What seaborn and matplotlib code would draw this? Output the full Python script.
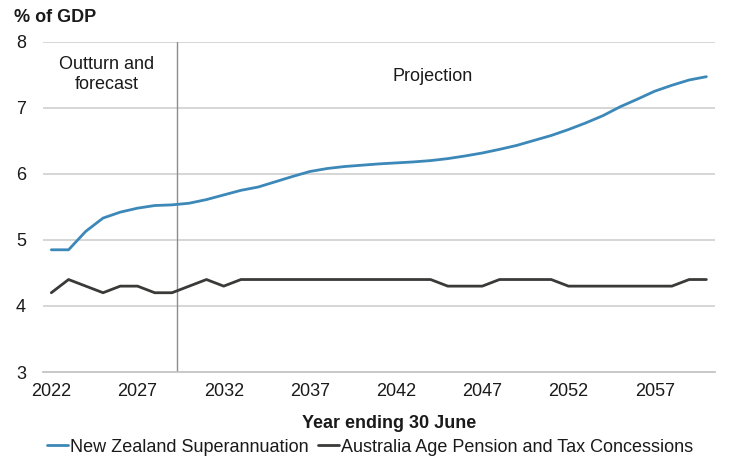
import numpy as np
import pandas as pd
import matplotlib
matplotlib.use("Agg")
import matplotlib.pyplot as plt
import seaborn as sns
from matplotlib.lines import Line2D

years = list(range(2022, 2061))
nz_super = [4.85, 4.85, 5.13, 5.33, 5.42, 5.48, 5.52, 5.53, 5.555, 5.61,
            5.68, 5.75, 5.80, 5.88, 5.96, 6.035, 6.08, 6.11, 6.13, 6.15,
            6.165, 6.18, 6.20, 6.23, 6.27, 6.315, 6.37, 6.43, 6.505, 6.58,
            6.67, 6.77, 6.88, 7.015, 7.13, 7.25, 7.34, 7.42, 7.47]
aus_pension = [4.2, 4.4, 4.3, 4.2, 4.3, 4.3, 4.2, 4.2, 4.3, 4.4,
               4.3, 4.4, 4.4, 4.4, 4.4, 4.4, 4.4, 4.4, 4.4, 4.4,
               4.4, 4.4, 4.4, 4.3, 4.3, 4.3, 4.4, 4.4, 4.4, 4.4,
               4.3, 4.3, 4.3, 4.3, 4.3, 4.3, 4.3, 4.4, 4.4]
series_names = ["New Zealand Superannuation", "Australia Age Pension and Tax Concessions"]
split_year = 2029.3

df = pd.DataFrame({
    "year": years * 2,
    "value": nz_super + aus_pension,
    "series": [series_names[0]] * len(years) + [series_names[1]] * len(years),
})

sns.set_theme(style="white")
plt.rcParams['font.family'] = ['Liberation Sans', 'DejaVu Sans']
plt.rcParams['text.color'] = '#1a1a1a'
fs = 13

fig = plt.figure(figsize=(7.44, 4.63), dpi=100)
ax = fig.add_axes([0.0574, 0.1965, 0.9036, 0.7135])

# gridlines first so lines sit on top
for v in [4, 5, 6, 7, 8]:
    ax.axhline(v, color='#d0d0d0', lw=1.2, zorder=0)
ax.axvline(split_year, color='#8c8c8c', lw=1.0, zorder=1)

sns.lineplot(data=df, x='year', y='value', hue='series', ax=ax,
             palette=['#3c88b8', '#3a3a38'], linewidth=2.0, legend=False, zorder=3)

ax.set_xlim(2021.5, 2060.5)
ax.set_ylim(3, 8)
ax.set_yticks([3, 4, 5, 6, 7, 8])
ax.set_xticks([2022, 2027, 2032, 2037, 2042, 2047, 2052, 2057])
ax.set_xticks([2021.5, 2026.5, 2031.5, 2036.5, 2041.5, 2046.5, 2051.5, 2056.5], minor=True)
ax.tick_params(axis='x', which='major', length=0, labelsize=fs, pad=8, colors='#1a1a1a')
ax.tick_params(axis='x', which='minor', length=5, color='#bfbfbf', width=1, direction='out')
ax.tick_params(axis='y', length=0, labelsize=fs, pad=12, colors='#1a1a1a')

for s in ['top', 'right', 'left']:
    ax.spines[s].set_visible(False)
ax.spines['bottom'].set_color('#bfbfbf')
ax.spines['bottom'].set_linewidth(1.2)
ax.set_xlabel('')
ax.set_ylabel('')

ax.text(2025.2, 7.5, 'Outturn and\nforecast', ha='center', va='center', fontsize=fs, linespacing=1.25)
ax.text(2044.1, 7.47, 'Projection', ha='center', va='center', fontsize=fs)

fig.text(14 / 744, 1 - 17 / 463, '% of GDP', fontsize=fs, fontweight='bold', va='center', ha='left')
fig.text(389 / 744, 1 - 423 / 463, 'Year ending 30 June', fontsize=fs, fontweight='bold', va='center', ha='center')

handles = [Line2D([], [], color='#3c88b8', lw=2.0), Line2D([], [], color='#3a3a38', lw=2.0)]
fig.legend(handles, series_names, loc='center', bbox_to_anchor=(370 / 744, 1 - 447 / 463),
           ncol=2, frameon=False, fontsize=fs, handlelength=1.2, handletextpad=0.1,
           columnspacing=0.5, borderpad=0)

fig.savefig('out.png', dpi=100)
